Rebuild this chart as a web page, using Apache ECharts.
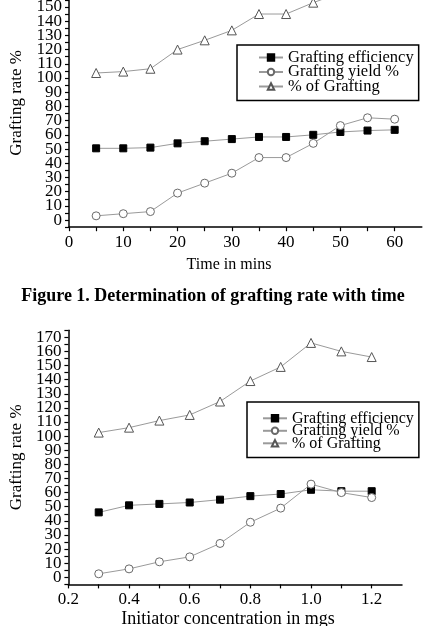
<!DOCTYPE html>
<html>
<head>
<meta charset="utf-8">
<script src="https://cdn.jsdelivr.net/npm/echarts@6/dist/echarts.min.js"></script>
<style>
  html, body { margin: 0; padding: 0; background: #fff; overflow: hidden; }
  /* the top of figure 1 is cropped off in the original, so the canvas starts 30px above the page */
  #chart { width: 426px; height: 656px; margin-top: -30px; }
</style>
</head>
<body>
<div id="chart"></div>
<script>
// figure 1: time in mins
const timeMins = [5, 10, 15, 20, 25, 30, 35, 40, 45, 50, 55, 60]
const timeEfficiency = [50.5, 50.5, 51, 54, 55.5, 57, 58.5, 58.5, 60, 62, 63, 63.5]
const timeYield = [3, 4.5, 6, 19, 26, 33, 44, 44, 54, 66.5, 72, 71]
// last three points are above the cropped picture, estimated
const timeGrafting = [103.5, 104.5, 106.5, 120, 126.5, 133.5, 145, 145, 153, 160, 164, 166]

// figure 2: initiator concentration in mgs
const initiatorMgs = [0.3, 0.4, 0.5, 0.6, 0.7, 0.8, 0.9, 1.0, 1.1, 1.2]
const initEfficiency = [46, 51, 52, 53, 55, 57.5, 59, 62, 61, 61]
const initYield = [2.5, 6, 11, 14.5, 24, 39, 49, 66, 60, 56.5]
const initGrafting = [102.5, 106, 111, 115, 124.5, 139, 149, 166, 160, 156]

const seriesNames = ['Grafting efficiency', 'Grafting yield %', '% of Grafting']
const captionText = 'Figure 1. Determination of grafting rate with time'

const FONT = '"Liberation Serif", "DejaVu Serif", serif'
const LINE_GRAY = '#9a9a9a'
const OFF = 30 // canvas offset, see css

function pairs(xs, ys) {
  return xs.map((x, i) => [x, ys[i]])
}

// marker style per series
const markers = [
  { symbol: 'rect', symbolSize: 7, itemStyle: { color: '#000', borderColor: '#000', borderWidth: 1 } },
  { symbol: 'circle', symbolSize: 8, itemStyle: { color: '#fff', borderColor: '#6a6a6a', borderWidth: 1 } },
  { symbol: 'triangle', symbolSize: 9, itemStyle: { color: '#fff', borderColor: '#555', borderWidth: 1 } },
]

function makeSeries(idx, xs, ys, gridIdx) {
  return Object.assign({
    name: seriesNames[idx],
    type: 'line',
    xAxisIndex: gridIdx,
    yAxisIndex: gridIdx,
    data: pairs(xs, ys),
    lineStyle: { color: LINE_GRAY, width: 1 },
    clip: false,
    z: 3 + idx,
  }, markers[idx])
}

function yAxisOpt(gridIdx, min, max, gap) {
  return {
    type: 'value',
    gridIndex: gridIdx,
    min: min,
    max: max,
    interval: 5,
    name: 'Grafting rate %',
    nameLocation: 'middle',
    nameGap: gap,
    nameTextStyle: { fontFamily: FONT, fontSize: 17, color: '#000' },
    axisLine: { show: true, lineStyle: { color: '#000', width: 1.5 } },
    axisTick: { show: true, length: 4, lineStyle: { color: '#000', width: 1.2 } },
    axisLabel: {
      fontFamily: FONT, fontSize: 17, color: '#000', margin: 7,
      formatter: v => (v >= 0 && Math.round(v) % 10 === 0) ? String(Math.round(v)) : '',
    },
    splitLine: { show: false },
  }
}

function xAxisOpt(gridIdx, min, max, interval, formatter) {
  return {
    type: 'value', gridIndex: gridIdx, min: min, max: max, interval: interval,
    axisLine: { onZero: false, lineStyle: { color: '#000', width: 1.5 } },
    axisTick: { length: 4, lineStyle: { color: '#000', width: 1.2 } },
    axisLabel: {
      fontFamily: FONT, fontSize: 17, color: '#000', margin: 7, showMaxLabel: false,
      formatter: formatter,
    },
    splitLine: { show: false },
  }
}

const chart = echarts.init(document.getElementById('chart'))

const legendBase = {
  orient: 'vertical',
  data: seriesNames,
  borderColor: '#000',
  borderWidth: 1.5,
  itemWidth: 24,
  itemHeight: 8,
  selectedMode: false,
}

chart.setOption({
  animation: false,
  backgroundColor: '#fff',
  grid: [
    { left: 65, top: OFF - 23.6, width: 356.8, height: 250.8 },
    { left: 54, top: OFF + 330.2, width: 348, height: 254.2 },
  ],
  xAxis: [
    xAxisOpt(0, 0, 65, 5, v => (v % 10 === 0 && v <= 60) ? String(v) : ''),
    xAxisOpt(1, 0.2, 1.3, 0.1, v => {
      const t = Math.round(v * 10)
      return (t % 2 === 0 && t <= 12) ? (t / 10).toFixed(1) : ''
    }),
  ],
  yAxis: [
    yAxisOpt(0, -5, 170, 44),
    yAxisOpt(1, -5, 175, 37),
  ],
  legend: [
    Object.assign({}, legendBase, {
      left: 237, top: OFF + 45,
      itemGap: -2.5,
      padding: [4, 5, 5.5, 21],
      textStyle: { fontFamily: FONT, fontSize: 16.5, color: '#000' },
    }),
    Object.assign({}, legendBase, {
      left: 247, top: OFF + 402,
      itemGap: -3.5,
      padding: [8.3, 5, 6.3, 15],
      textStyle: { fontFamily: FONT, fontSize: 16, color: '#000' },
    }),
  ],
  graphic: [
    {
      type: 'text', x: 229, y: OFF + 265,
      style: { text: 'Time in mins', font: '16px ' + FONT, fill: '#000', align: 'center', verticalAlign: 'middle' },
    },
    {
      type: 'text', x: 228, y: OFF + 619,
      style: { text: 'Initiator concentration in mgs', font: '18px ' + FONT, fill: '#000', align: 'center', verticalAlign: 'middle' },
    },
    {
      type: 'text', x: 213, y: OFF + 296,
      style: { text: captionText, font: 'bold 18px ' + FONT, fill: '#000', align: 'center', verticalAlign: 'middle' },
    },
  ],
  series: [
    makeSeries(0, timeMins, timeEfficiency, 0),
    makeSeries(1, timeMins, timeYield, 0),
    makeSeries(2, timeMins, timeGrafting, 0),
    makeSeries(0, initiatorMgs, initEfficiency, 1),
    makeSeries(1, initiatorMgs, initYield, 1),
    makeSeries(2, initiatorMgs, initGrafting, 1),
  ],
})
</script>
</body>
</html>
